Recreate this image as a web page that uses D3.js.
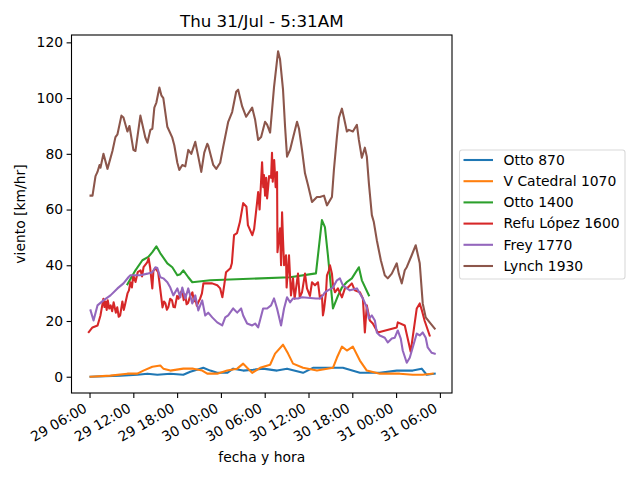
<!DOCTYPE html>
<html lang="es">
  <head>
    <meta charset="UTF-8" />
    <title>viento</title>
    <style>
      body { margin: 0; background: #fff; }
      text { font-family: "DejaVu Sans", sans-serif; fill: #000; }
    </style>
    <script src="https://d3js.org/d3.v7.min.js"></script>
  </head>
  <body>
    <svg width="640" height="480"></svg>
    <script>
      // hours since 29/Jul 00:00, wind km/hr
      var otto870 = [[6.14,0],[10.24,0.4],[12.56,0.7],[13.93,1.1],[15.29,0.7],[17.07,1.1],[18.85,0.7],[19.8,1.8],[21.17,2.9],[21.58,3.2],[22.54,2.2],[23.49,1.4],[24.86,1.4],[25.68,2.9],[27.05,2.2],[28.41,2.5],[29.78,2.9],[31.69,2.2],[33.06,2.9],[35.25,1.4],[36.61,3.2],[38.53,3.2],[40.71,3.2],[43.04,1.4],[45.77,1.4],[48.09,2.2],[50.28,2.2],[51.51,2.9],[52.19,0.7],[53.29,1.1]];
      var catedral1070 = [[6.14,0],[8.87,0.4],[11.19,1.1],[12.56,1.1],[13.38,2.2],[14.61,3.6],[15.7,4],[16.11,2.9],[17.07,2.2],[18.85,2.9],[20.21,2.9],[21.44,2.2],[22.13,1.1],[23.49,1.1],[24.86,2.2],[26.23,2.9],[27.05,4.7],[27.59,3.2],[28.28,1.4],[29.37,3.2],[30.74,4.3],[31.42,8.3],[32.51,11.5],[33.2,8.3],[33.88,4.7],[35.25,3.2],[37.16,2.2],[39.35,3.2],[39.89,6.8],[40.58,10.8],[41.26,9.4],[42.08,10.8],[43.04,5.8],[43.99,2.2],[45.77,1.1],[48.5,1.1],[50.28,0.7],[51.65,0.7],[53.01,1.1]];
      var otto1400 = [[11.19,33.2],[12.29,38.2],[13.24,41.8],[14.06,43],[14.61,44.7],[15.16,46.8],[15.7,44.3],[16.66,40.7],[17.34,39.3],[18.03,36.4],[18.44,36.8],[18.85,38.2],[19.53,35.7],[20.08,33.9],[22.54,34.6],[33.47,35.7],[37.02,37.1],[37.84,56.2],[38.25,53.7],[38.66,43.6],[39.35,24.5],[40.03,29],[40.58,32],[41.26,34],[41.94,35.3],[42.35,37],[42.9,39.3],[43.31,34.6],[44.27,29.2]];
      var refu1600 = [[5.9,16],[6.4,17.7],[7.1,18.4],[7.5,22],[7.9,28],[8.05,25],[8.2,27],[8.35,24],[8.5,27.4],[8.7,24.5],[8.9,25.6],[9.1,23.5],[9.3,26.7],[9.6,23],[9.8,24.9],[10.0,21.5],[10.2,22],[10.5,27],[10.7,24],[10.9,26.3],[11.2,29.9],[11.4,31],[11.6,33.9],[11.8,32],[12.0,36.4],[12.3,34],[12.6,37.5],[13.0,38.2],[13.2,36],[13.4,39.3],[13.9,41],[14.1,42.5],[14.3,39.3],[14.6,31.7],[14.75,38],[15.0,39],[15.4,37.5],[16.0,24.9],[16.2,27],[16.4,26.3],[16.6,24],[16.8,25],[17.05,28],[17.3,27.4],[17.5,25],[17.7,24.9],[18.0,29],[18.2,28],[18.45,30],[18.7,31],[18.9,27.5],[19.1,29.5],[19.3,26],[19.5,26.5],[19.8,29],[20.1,30.3],[20.3,27],[20.5,28],[20.7,25.5],[20.9,26.7],[21.15,28],[21.4,29.9],[21.6,33.5],[22.8,33.5],[23.5,32.8],[23.9,31.7],[24.2,28.5],[24.45,32.8],[24.7,37.5],[25.3,38.9],[25.5,40.7],[25.8,50.8],[26.2,51.5],[26.6,55.5],[27.05,62.3],[27.5,61],[27.7,54.4],[28.3,50.8],[28.55,53],[28.96,62.7],[29.1,66.3],[29.3,60],[29.64,77],[29.8,68],[29.9,72.4],[30.05,65],[30.2,71.4],[30.33,64],[30.46,67.7],[30.6,72],[30.87,71.4],[31.0,80.4],[31.1,70],[31.3,77.8],[31.5,68],[31.69,73.5],[31.75,44.7],[32.1,53.3],[32.24,40],[32.38,59],[32.5,49.7],[32.65,40],[32.92,43.6],[33.0,32],[33.33,43.6],[33.6,29.2],[33.88,35.3],[34.1,28],[34.29,31.7],[34.56,37],[34.8,28.5],[35.11,30.3],[35.52,37],[35.79,31.7],[36.2,29],[36.48,33.9],[36.89,32.8],[37.3,33.9],[37.57,28.1],[37.84,29.2],[37.98,22],[38.12,24],[38.4,30.3],[38.53,36.4],[38.8,38.2],[38.94,40],[39.21,37],[39.35,33],[39.62,30.3],[40.03,31.7],[40.58,28.5],[40.99,31.7],[41.4,32],[41.94,33.5],[42.35,31],[43.04,30.3],[43.45,28.1],[43.72,15.9],[43.99,25.6],[44.4,20.2],[44.81,19.1],[45.5,15.9],[48.09,17.7],[48.23,19.5],[49.19,18.4],[50.0,9],[50.83,24.5],[51.24,26.3],[51.51,24],[51.92,20],[52.6,14.8]];
      var frey1770 = [[6.14,23.8],[6.55,20.2],[7.09,25.6],[7.91,27.4],[8.87,29.2],[9.83,31.7],[10.65,33.5],[11.33,35.7],[11.6,36.4],[12.97,36.4],[13.93,37],[14.61,37.5],[15.02,39.3],[15.29,39],[15.7,35.7],[16.11,35.3],[16.66,33.9],[17.07,32],[17.48,29.2],[18.03,31.7],[18.44,28.5],[18.71,32],[19.12,28.1],[19.53,31.7],[20.08,26.3],[20.49,29.2],[20.9,23.8],[21.44,27.4],[21.85,22],[22.26,23],[22.81,21.3],[23.49,19.5],[24.18,18.4],[24.59,21.3],[25.0,22],[25.68,24.5],[26.23,23],[26.77,24.5],[27.05,22],[27.59,19.1],[28.28,18.4],[28.69,19.1],[29.1,17.7],[29.78,24.5],[30.33,24.5],[30.87,25.6],[31.28,28.1],[31.69,24.5],[32.24,18.4],[32.65,24.5],[33.06,28.5],[33.47,26.7],[33.88,28.1],[34.56,28.1],[35.11,28.5],[37.02,28.1],[37.57,28.1],[37.98,29.2],[38.25,30.3],[38.66,31],[39.35,32],[39.89,34.6],[40.3,35.3],[40.71,32.8],[41.26,31.7],[41.67,31],[42.63,31.7],[43.04,29.9],[43.45,28.1],[43.99,24.9],[44.27,20.9],[44.68,22],[45.09,20.2],[45.36,15.9],[45.77,14.8],[46.45,14],[46.86,12.3],[47.41,13.7],[47.82,14],[48.23,16.6],[48.64,13.7],[48.91,9.4],[49.46,5],[49.87,6.8],[50.28,10.5],[50.83,15.5],[51.24,14.8],[51.65,15.9],[52.06,14],[52.33,10.5],[52.88,8.6],[53.29,8.3]];
      var lynch1930 = [[6.14,65],[6.41,65],[6.82,72],[7.09,73.5],[7.37,76],[7.5,75],[7.91,80],[8.46,74.6],[9.14,81],[9.55,86],[9.83,87],[10.37,93.7],[10.65,93],[11.19,88],[11.47,90],[12.01,81.4],[12.29,81],[12.97,93.7],[13.65,85.8],[13.93,84],[14.34,88.6],[14.61,89],[14.88,96.6],[15.16,98.4],[15.57,103.8],[15.84,101],[16.11,100],[16.66,89.7],[17.34,85.8],[17.62,83],[18.03,76.8],[18.3,74.2],[18.71,76],[19.12,75.5],[19.53,81.4],[19.94,80],[20.49,84.3],[20.9,79],[21.31,73.5],[21.72,80.4],[22.13,83.6],[22.26,83],[22.95,76],[23.36,74.6],[23.9,76.8],[24.31,82.5],[25.0,91.5],[25.54,95],[26.09,102.3],[26.36,103],[26.91,97],[27.46,93.3],[28.28,96.6],[28.69,92.2],[29.1,85],[29.51,86],[30.05,91.5],[30.33,90.5],[30.74,87.6],[31.28,104],[31.83,116.8],[32.1,113.9],[32.51,103],[32.79,89.7],[33.06,79],[33.47,81.4],[33.88,85.8],[34.43,91.5],[34.7,89],[35.11,81.4],[35.52,73],[35.93,68.8],[36.48,62.7],[37.16,64.5],[37.57,64.5],[38.12,65],[38.53,61.5],[39.21,64.5],[39.48,74.2],[39.89,86],[40.17,93],[40.58,96.2],[40.85,93],[41.26,88],[41.53,88.6],[42.08,88],[42.63,90.4],[42.9,85],[43.31,78.6],[43.72,82.2],[43.99,79],[44.27,69.5],[44.68,58],[44.95,55.5],[45.36,49],[45.91,41.8],[46.45,36.4],[46.86,35.3],[47.41,37],[48.09,40.7],[48.37,37],[48.78,33.5],[49.19,38.2],[49.46,39.3],[50.14,43.6],[50.69,47.2],[51.24,40.7],[51.65,26.3],[52.06,21.3],[52.6,19.5],[53.29,17.3]];

      var names = ["Otto 870", "V Catedral 1070", "Otto 1400", "Refu López 1600", "Frey 1770", "Lynch 1930"];
      var colors = ["#1f77b4", "#ff7f0e", "#2ca02c", "#d62728", "#9467bd", "#8c564b"];
      var title = "Thu 31/Jul - 5:31AM";

      window.onload = function () {
        var base = new Date(2025, 6, 29, 0, 0);
        var toDate = (h) => new Date(base.getTime() + h * 3600e3);

        var series = [otto870, catedral1070, otto1400, refu1600, frey1770, lynch1930];

        var svg = d3.select("svg");
        var axL = 71.5, axR = 452, axT = 35, axB = 393;

        var all = d3.merge(series);
        var tExt = d3.extent(all, (d) => d[0]);
        var vExt = d3.extent(all, (d) => d[1]);
        var tPad = (tExt[1] - tExt[0]) * 0.05;
        var vPad = (vExt[1] - vExt[0]) * 0.05;

        var x = d3.scaleTime()
          .domain([toDate(tExt[0] - tPad), toDate(tExt[1] + tPad)])
          .range([axL, axR]);
        var y = d3.scaleLinear()
          .domain([vExt[0] - vPad, vExt[1] + vPad])
          .range([axB, axT]);

        var line = d3.line()
          .x((d) => x(toDate(d[0])))
          .y((d) => y(d[1]));

        svg.append("g")
          .selectAll("path")
          .data(series)
          .join("path")
          .attr("d", (d) => line(d))
          .attr("fill", "none")
          .attr("stroke", (d, i) => colors[i])
          .attr("stroke-width", 2.08)
          .attr("stroke-linejoin", "round")
          .attr("stroke-linecap", "square");

        // frame
        svg.append("rect")
          .attr("x", axL).attr("y", axT)
          .attr("width", axR - axL).attr("height", axB - axT)
          .attr("fill", "none").attr("stroke", "#000").attr("stroke-width", 1.1);

        var yAxis = svg.append("g")
          .attr("transform", "translate(" + axL + ",0)")
          .call(d3.axisLeft(y).tickValues(d3.range(0, 121, 20)).tickSize(4.9).tickPadding(3.5));
        yAxis.select(".domain").remove();
        yAxis.selectAll("line").attr("stroke-width", 1.1);
        yAxis.selectAll("text").style("font-size", "13.9px").style("font-family", "DejaVu Sans");

        var xTicks = d3.range(6, 55, 6).map(toDate);
        var xAxis = svg.append("g")
          .attr("transform", "translate(0," + axB + ")")
          .call(d3.axisBottom(x).tickValues(xTicks).tickFormat(d3.timeFormat("%d %H:%M")).tickSize(4.9));
        xAxis.select(".domain").remove();
        xAxis.selectAll("line").attr("stroke-width", 1.1);
        xAxis.selectAll("text")
          .style("font-size", "13.9px")
          .style("font-family", "DejaVu Sans")
          .attr("text-anchor", "end")
          .attr("y", 0).attr("dy", 0)
          .attr("transform", "translate(-2,18) rotate(-30)");

        svg.append("text")
          .attr("x", (axL + axR) / 2).attr("y", 27)
          .attr("text-anchor", "middle")
          .style("font-size", "16.7px")
          .text(title);

        svg.append("text")
          .attr("x", (axL + axR) / 2).attr("y", 462)
          .attr("text-anchor", "middle")
          .style("font-size", "13.9px")
          .text("fecha y hora");

        svg.append("text")
          .attr("transform", "translate(25," + (axT + axB) / 2 + ") rotate(-90)")
          .attr("text-anchor", "middle")
          .style("font-size", "13.9px")
          .text("viento [km/hr]");

        // legend
        var lg = svg.append("g").attr("transform", "translate(459.5,150)");
        lg.append("rect")
          .attr("width", 165.5).attr("height", 129)
          .attr("rx", 2.5)
          .attr("fill", "#fff").attr("fill-opacity", 0.8)
          .attr("stroke", "#d9d9d9").attr("stroke-width", 1.1);
        var items = lg.selectAll("g.item")
          .data(names)
          .join("g")
          .attr("class", "item")
          .attr("transform", (d, i) => "translate(0," + (10 + i * 21.2) + ")");
        items.append("line")
          .attr("x1", 4).attr("x2", 33.5)
          .attr("stroke", (d, i) => colors[i])
          .attr("stroke-width", 2.08);
        items.append("text")
          .attr("x", 44).attr("dy", "0.35em")
          .style("font-size", "13.9px")
          .text((d) => d);
      };
    </script>
  </body>
</html>
